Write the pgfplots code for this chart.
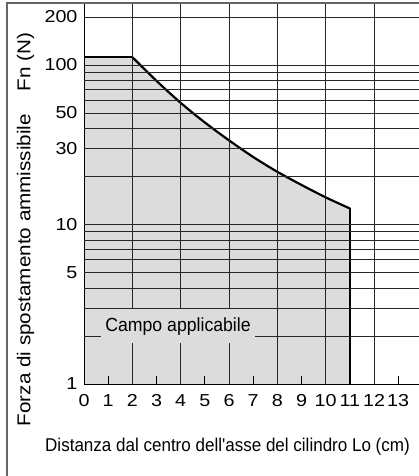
\documentclass[border=0pt]{standalone}
\usepackage{graphicx}
\usepackage{pgfplots}
\pgfplotsset{compat=1.18}
\usepackage{fontspec}
\setmainfont{Liberation Sans}
\definecolor{fillgray}{RGB}{220,220,220}
\newcommand\W[1]{\scalebox{1.14}[1]{#1}}
\begin{document}
\begin{tikzpicture}
\begin{axis}[
  scale only axis, width=335pt, height=381pt,
  xmin=0, xmax=13.86, ymin=1, ymax=244.8, ymode=log,
  axis on top,
  axis x line*=bottom, axis y line*=left,
  axis line style={line width=1pt, black},
  xtick={0,...,13},
  xticklabels={\W{0},\W{1},\W{2},\W{3},\W{4},\W{5},\W{6},\W{7},\W{8},\W{9},\W{10},\W{11},\W{12},\W{13}},
  tick align=inside,
  major tick length=8pt,
  minor tick length=0pt,
  xtick style={line width=1pt, black},
  ytick={1,5,10,30,50,100,200},
  yticklabels={\W{1},\W{5},\W{10},\W{30},\W{50},\W{100},\W{200}},
  ytick style={draw=none},
  extra x ticks={2,4,6,8,10,12},
  extra x tick labels={},
  extra x tick style={grid=major, major tick length=0pt},
  extra y ticks={2,3,4,5,6,7,8,9,10,20,30,40,50,60,70,80,90,100,200},
  extra y tick labels={},
  extra y tick style={grid=major, major tick length=0pt},
  major grid style={line width=0.8pt, black!85},
  /pgf/number format/assume math mode=true,
  tick label style={font=\fontsize{17.3}{20}\selectfont},
  yticklabel style={xshift=-3pt},
  xticklabel style={yshift=-7pt, inner xsep=0pt},
  xlabel={\scalebox{0.92}[1]{Distanza dal centro dell\textquotesingle asse del cilindro Lo (cm)}},
  xlabel style={at={(axis description cs:0.4284,-0.1654)}, anchor=center, font=\fontsize{18.5}{21}\selectfont},
  ylabel={\scalebox{1.11}[1]{Forza di spostamento ammissibile\hspace{1.1em}Fn (N)}},
  ylabel style={at={(axis description cs:-0.1746,0.4055)}, anchor=center, font=\fontsize{18.6}{22}\selectfont},
]
\addplot[fill=fillgray, draw=none] coordinates {
  (0,1) (0,112) (2,112) (3,79.6) (4,57.9) (5,43.6) (6,33.7) (7,26.5) (8,21.4) (9,17.7) (10,14.8) (11,12.6) (11,1)
} -- cycle;
\addplot[black, line width=2.2pt] coordinates {(0,112) (2,112)};
\addplot[black, line width=2.2pt, smooth, tension=0.5] coordinates {
  (2,112) (3,79.6) (4,57.9) (5,43.6) (6,33.7) (7,26.5) (8,21.4) (9,17.7) (10,14.8) (11,12.6)
};
\addplot[black, line width=2.2pt] coordinates {(11,12.6) (11,1)};
\coordinate (lab) at (axis cs:3.89,2.3);
\coordinate (sw) at (rel axis cs:0,0);
\coordinate (ne) at (rel axis cs:1,1);
\end{axis}
\node[fill=fillgray, inner xsep=4pt, minimum height=34pt, font=\fontsize{19}{22}\selectfont] at (lab) {\scalebox{0.93}[1]{Campo applicabile}};
\draw[black!60, line width=1.3pt] ([shift={(-77pt,-92pt)}]sw) |- (ne);
\pgfresetboundingbox
\path[use as bounding box] ([shift={(-84pt,-92pt)}]sw) rectangle ([yshift=3pt]ne);
\end{tikzpicture}
\end{document}
